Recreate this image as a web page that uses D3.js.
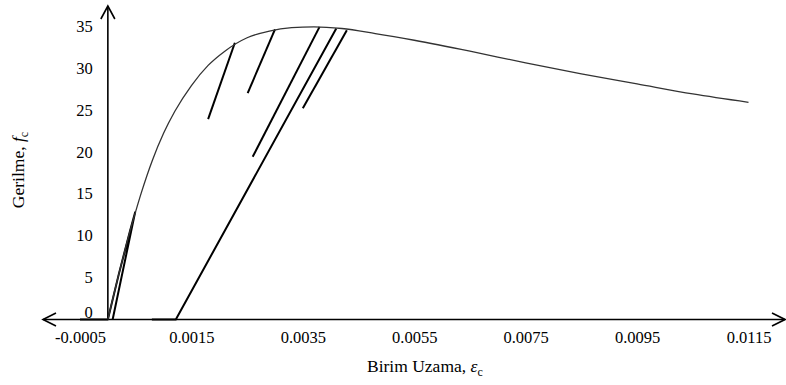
<!DOCTYPE html>
<html>
<head>
<meta charset="utf-8">
<script src="https://cdn.jsdelivr.net/npm/d3@7/dist/d3.min.js"></script>
<style>
  html, body { margin: 0; padding: 0; background: #fff; }
  svg { display: block; }
  svg text { fill: #000; }
</style>
</head>
<body>
<svg id="chart" width="786" height="385"></svg>
<script>
// ---- data ----
const xTickValues = [-0.0005, 0.0015, 0.0035, 0.0055, 0.0075, 0.0095, 0.0115];
const xTickLabels = ["-0.0005", "0.0015", "0.0035", "0.0055", "0.0075", "0.0095", "0.0115"];
const yTickValues = [0, 5, 10, 15, 20, 25, 30, 35];

// envelope (monotonic) curve
const envStrain = [0, 0.0001, 0.0002, 0.0003, 0.0004, 0.0005, 0.0006, 0.0008, 0.001, 0.0012, 0.0015, 0.0018, 0.0021, 0.0025, 0.0029, 0.0033, 0.0037, 0.0042, 0.0048, 0.0055, 0.0065, 0.0075, 0.0085, 0.0095, 0.0105, 0.0115];
const envStress = [0, 2.8, 5.5, 8.1, 10.6, 12.9, 15.1, 19.0, 22.2, 24.8, 27.9, 30.3, 32.0, 33.6, 34.4, 34.8, 34.9, 34.7, 34.1, 33.3, 32.0, 30.6, 29.3, 28.1, 26.9, 25.9];

// cyclic loading / unloading branches
const cycStrain = [
  [-0.0005, 0, 0.0002, 0.0004, 0.00049, 0.000086],
  [0.00079, 0.00122, 0.0041],
  [0.00228, 0.00180],
  [0.0030, 0.00251],
  [0.0038, 0.0026],
  [0.00429, 0.0035]
];
const cycStress = [
  [0, 0, 5.5, 10.6, 12.8, 0],
  [0, 0, 34.7],
  [33.0, 23.9],
  [34.6, 27.0],
  [34.9, 19.4],
  [34.5, 25.2]
];

// ---- chart ----
const FONT = '"Liberation Serif", "Times New Roman", Times, "DejaVu Serif", serif';
const svg = d3.select("#chart");
const x = d3.scaleLinear().domain([-0.0005, 0.0115]).range([80, 748.5]);
const y = d3.scaleLinear().domain([0, 35]).range([319.5, 26]);
const x0 = x(0), yAxisTop = 6, xAxisLeft = 43, xAxisRight = 785;

// axis labels through d3 axes
const gx = svg.append("g").attr("transform", `translate(0,${y(0)})`)
  .call(d3.axisBottom(x).tickValues(xTickValues).tickFormat((d, i) => xTickLabels[i]).tickSize(0).tickPadding(12));
gx.attr("font-family", FONT).attr("font-size", 16.5);
gx.select(".domain").remove();
gx.selectAll("text").attr("fill", "#000");

const gy = svg.append("g").attr("transform", `translate(${x0},0)`)
  .call(d3.axisLeft(y).tickValues(yTickValues).tickSize(0).tickPadding(15));
gy.attr("font-family", FONT).attr("font-size", 16.5);
gy.select(".domain").remove();
gy.selectAll("text").attr("fill", "#000");
gy.selectAll(".tick").filter(d => d === 0).select("text").attr("y", -7.5);

// axis lines with open arrowheads
const axisG = svg.append("g").attr("stroke", "#000").attr("stroke-width", 1.6).attr("fill", "none");
axisG.append("line").attr("x1", xAxisLeft).attr("x2", xAxisRight).attr("y1", y(0)).attr("y2", y(0));
axisG.append("line").attr("x1", x0).attr("x2", x0).attr("y1", y(0)).attr("y2", yAxisTop);
axisG.append("path").attr("d", `M${xAxisLeft + 13},${y(0) - 6.5} L${xAxisLeft},${y(0)} L${xAxisLeft + 13},${y(0) + 6.5}`);
axisG.append("path").attr("d", `M${xAxisRight - 13},${y(0) - 6.5} L${xAxisRight},${y(0)} L${xAxisRight - 13},${y(0) + 6.5}`);
axisG.append("path").attr("d", `M${x0 - 7},${yAxisTop + 13} L${x0},${yAxisTop} L${x0 + 7},${yAxisTop + 13}`);

const line = d3.line().x(d => x(d[0])).y(d => y(d[1]));

// cyclic branches
cycStrain.forEach((s, i) => {
  const pts = s.map((v, j) => [v, cycStress[i][j]]);
  svg.append("path").attr("d", line(pts)).attr("fill", "none")
    .attr("stroke", "#000").attr("stroke-width", 2).attr("stroke-linejoin", "round");
});

// envelope
const envPts = envStrain.map((v, i) => [v, envStress[i]]);
svg.append("path").attr("d", d3.line().curve(d3.curveMonotoneX).x(d => x(d[0])).y(d => y(d[1]))(envPts))
  .attr("fill", "none").attr("stroke", "#333").attr("stroke-width", 1.3);

// axis titles
const xt = svg.append("text").attr("x", 367).attr("y", 372).attr("font-family", FONT).attr("font-size", 17.5);
xt.append("tspan").text("Birim Uzama, ");
xt.append("tspan").attr("font-style", "italic").text("ε");
xt.append("tspan").attr("dy", 4).attr("font-size", 12).text("c");

const yt = svg.append("text").attr("transform", "translate(24,170) rotate(-90)")
  .attr("text-anchor", "middle").attr("font-family", FONT).attr("font-size", 17.5);
yt.append("tspan").text("Gerilme, ");
yt.append("tspan").attr("font-style", "italic").text("f");
yt.append("tspan").attr("dy", 4).attr("font-size", 12).text("c");
</script>
</body>
</html>
